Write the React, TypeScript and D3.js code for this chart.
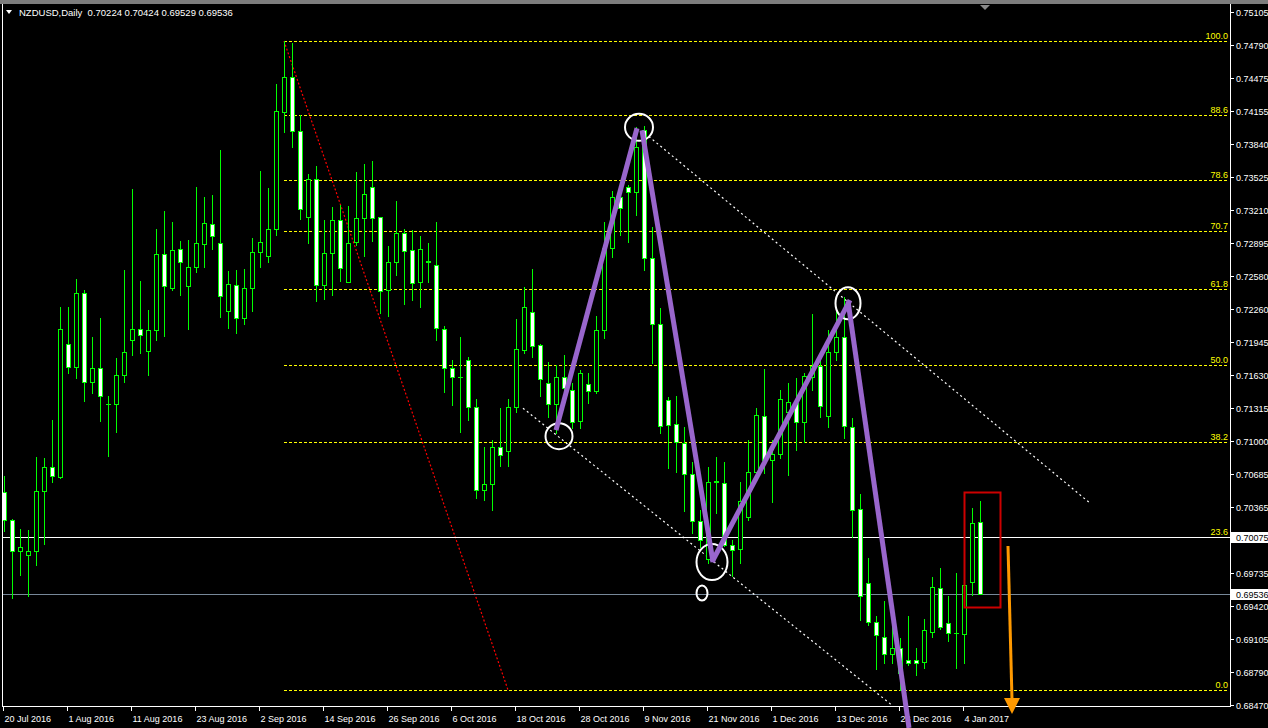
import React from "react";
import * as d3 from "d3";

// NZDUSD daily candles, 20 Jul 2016 .. 6 Jan 2017 (one entry per trading day)
const open = [
  0.70508, 0.7024, 0.69944, 0.69906, 0.69944, 0.70518, 0.70748, 0.70652, 0.71925, 0.71705,
  0.72413, 0.71561, 0.71695, 0.71351, 0.71351, 0.71628, 0.71963, 0.72068, 0.71858, 0.72059,
  0.72786, 0.72461, 0.72834, 0.7248, 0.72662, 0.72882, 0.73073, 0.72891, 0.72241, 0.72489,
  0.72174, 0.72461, 0.72805, 0.72767, 0.73025, 0.74145, 0.7448, 0.73963, 0.7314, 0.73504,
  0.72489, 0.72796, 0.73111, 0.72518, 0.72901, 0.73131, 0.73427, 0.7314, 0.72442, 0.7271,
  0.72987, 0.72824, 0.72518, 0.72719, 0.72681, 0.72068, 0.71695, 0.71609, 0.71772, 0.71322,
  0.70528, 0.70585, 0.70939, 0.70901, 0.71322, 0.71867, 0.72231, 0.71915, 0.71552, 0.71351,
  0.71609, 0.71485, 0.71188, 0.71542, 0.71475, 0.72059, 0.72844, 0.73332, 0.73427, 0.73379,
  0.73973, 0.72748, 0.72116, 0.71389, 0.71159, 0.70977, 0.70681, 0.70231, 0.69867, 0.70604,
  0.70595, 0.70001, 0.69963, 0.70269, 0.707, 0.71236, 0.70815, 0.70872, 0.71274, 0.7136,
  0.71178, 0.71609, 0.71714, 0.71236, 0.71848, 0.71992, 0.71131, 0.70346, 0.69638, 0.69264,
  0.69121, 0.68958, 0.69016, 0.68901, 0.68901, 0.68882, 0.69169, 0.6959, 0.69255, 0.69159,
  0.6915, 0.69647, 0.70224,
];
const high = [
  0.70662, 0.7025, 0.70154, 0.70145, 0.70843, 0.70834, 0.71197, 0.72279, 0.72279, 0.72547,
  0.72442, 0.71992, 0.72174, 0.71427, 0.71791, 0.72633, 0.73408, 0.72528, 0.7225, 0.73025,
  0.73198, 0.73092, 0.7291, 0.7292, 0.73427, 0.73332, 0.73351, 0.73781, 0.72623, 0.72633,
  0.72643, 0.72939, 0.7358, 0.73418, 0.74413, 0.74827, 0.74805, 0.74116, 0.73552, 0.73628,
  0.73111, 0.73236, 0.73255, 0.73246, 0.73571, 0.73647, 0.73676, 0.7314, 0.72863, 0.73293,
  0.73025, 0.73016, 0.72958, 0.72891, 0.73092, 0.72097, 0.71772, 0.71992, 0.718, 0.71398,
  0.70939, 0.71006, 0.71312, 0.71398, 0.72164, 0.7247, 0.72643, 0.71925, 0.71753, 0.71724,
  0.7182, 0.71552, 0.71676, 0.71647, 0.72193, 0.73092, 0.73389, 0.73427, 0.73446, 0.74001,
  0.7401, 0.73045, 0.72269, 0.71418, 0.71427, 0.71131, 0.70796, 0.70336, 0.70748, 0.70843,
  0.70796, 0.70049, 0.70604, 0.71006, 0.71312, 0.71686, 0.71006, 0.71485, 0.71552, 0.71599,
  0.71647, 0.72212, 0.718, 0.72059, 0.7225, 0.72375, 0.71217, 0.70489, 0.69877, 0.69322,
  0.69465, 0.69245, 0.69111, 0.69322, 0.69016, 0.69293, 0.69695, 0.69781, 0.69513, 0.69733,
  0.6963, 0.70355, 0.70424,
];
const low = [
  0.70135, 0.69494, 0.69714, 0.69513, 0.6981, 0.70011, 0.70604, 0.70645, 0.71647, 0.71599,
  0.71379, 0.71456, 0.71188, 0.70853, 0.71083, 0.71561, 0.7182, 0.71839, 0.71628, 0.71963,
  0.72001, 0.72442, 0.72394, 0.72068, 0.72614, 0.72662, 0.72834, 0.72183, 0.72078, 0.7203,
  0.72116, 0.72241, 0.72662, 0.7271, 0.72968, 0.73954, 0.7381, 0.73121, 0.72891, 0.72336,
  0.72355, 0.72394, 0.72528, 0.72518, 0.72872, 0.72767, 0.7291, 0.72221, 0.72193, 0.72585,
  0.72308, 0.72346, 0.72279, 0.72518, 0.71963, 0.71465, 0.71341, 0.71083, 0.71197, 0.70451,
  0.70432, 0.70336, 0.70757, 0.70757, 0.71274, 0.71839, 0.718, 0.71427, 0.71226, 0.71073,
  0.71456, 0.71121, 0.71121, 0.7136, 0.71456, 0.71982, 0.72757, 0.72968, 0.72901, 0.73159,
  0.72633, 0.71743, 0.71073, 0.70738, 0.707, 0.70327, 0.70116, 0.69982, 0.69829, 0.70307,
  0.6999, 0.69705, 0.69829, 0.7024, 0.70652, 0.7069, 0.70413, 0.70834, 0.70671, 0.7091,
  0.70987, 0.71485, 0.71226, 0.71131, 0.71772, 0.71025, 0.70078, 0.69284, 0.69236, 0.68815,
  0.68872, 0.68872, 0.68614, 0.68853, 0.68757, 0.68824, 0.69121, 0.69197, 0.69083, 0.68824,
  0.68872, 0.69523, 0.69529,
];
const close = [
  0.7024, 0.69944, 0.69982, 0.69944, 0.70518, 0.70748, 0.70662, 0.72068, 0.71705, 0.72413,
  0.71561, 0.71695, 0.71427, 0.71353, 0.71628, 0.71848, 0.72068, 0.72011, 0.72059, 0.72786,
  0.7248, 0.72824, 0.7271, 0.72662, 0.72891, 0.73083, 0.72958, 0.72384, 0.72499, 0.72174,
  0.72461, 0.72805, 0.72901, 0.73025, 0.74155, 0.7448, 0.73963, 0.73217, 0.73504, 0.72489,
  0.72796, 0.73111, 0.72652, 0.72891, 0.73131, 0.7336, 0.73131, 0.72432, 0.7271, 0.72987,
  0.72815, 0.72509, 0.72834, 0.7271, 0.72078, 0.71695, 0.71609, 0.71611, 0.71322, 0.70528,
  0.70585, 0.70939, 0.70863, 0.71322, 0.71877, 0.72279, 0.71906, 0.7159, 0.71351, 0.71609,
  0.71504, 0.71178, 0.71647, 0.71475, 0.72059, 0.72844, 0.73332, 0.73226, 0.73379, 0.7381,
  0.72748, 0.72116, 0.7114, 0.7115, 0.70987, 0.70681, 0.70231, 0.70049, 0.70604, 0.70614,
  0.70002, 0.69953, 0.70422, 0.707, 0.71245, 0.70815, 0.70872, 0.71398, 0.7137, 0.71178,
  0.71618, 0.71714, 0.71331, 0.71848, 0.71992, 0.7114, 0.70336, 0.69513, 0.69264, 0.6914,
  0.68958, 0.69016, 0.68776, 0.68872, 0.68872, 0.69188, 0.69599, 0.69217, 0.69159, 0.69161,
  0.69618, 0.70212, 0.69536,
];

// Time axis: a label every 8 bars
const dateLabels = [
  "20 Jul 2016", "1 Aug 2016", "11 Aug 2016", "23 Aug 2016", "2 Sep 2016", "14 Sep 2016",
  "26 Sep 2016", "6 Oct 2016", "18 Oct 2016", "28 Oct 2016", "9 Nov 2016", "21 Nov 2016",
  "1 Dec 2016", "13 Dec 2016", "23 Dec 2016", "4 Jan 2017",
];
const barsPerDateLabel = 8;

// Price axis labels
const priceTicks = [
  0.75105, 0.7479, 0.74475, 0.74155, 0.7384, 0.73525, 0.7321, 0.72895, 0.7258, 0.7226,
  0.71945, 0.7163, 0.71315, 0.71, 0.70685, 0.70365, 0.69735, 0.6942, 0.69105, 0.6879, 0.6847,
];

// Fibonacci retracement from the September high (bar 35) to the December low (bar 112)
const fibLevels = [0, 23.6, 38.2, 50, 61.8, 70.7, 78.6, 88.6, 100];
const fibHighBar = 35;
const fibLowBar = 112;
const fibLineEndBar = 63;

// Horizontal price lines
const levelLine = 0.70075;
const bidPrice = 0.69536;

// Hand-drawn zigzag (four separate trend segments): [bar1, price1, bar2, price2]
const zigzag = [
  [69, 0.71102, 79.125, 0.73992],
  [79.75, 0.73973, 88.625, 0.69839],
  [88.5, 0.69839, 105.75, 0.72346],
  [105.5, 0.72336, 113.125, 0.6825],
];
// Swing-point ellipses: [bar, price]
const swingMarks = [
  [69.375, 0.71044],
  [79.375, 0.74001],
  [88.5, 0.69838],
  [105.5, 0.72317],
  [87.25, 0.69542],
];
// Channel lines: [bar1, price1, bar2, price2]
const channel = [
  [64.875, 0.71312, 111.125, 0.6846],
  [80.125, 0.73944, 135.75, 0.70403],
];
// Box round the last two candles: [barLeft, priceTop, barRight, priceBottom]
const focusBox = [120, 0.70508, 124.5, 0.69408];
// Downward arrow: [barFrom, priceFrom, barTo, priceTo]
const downArrow = [125.5, 0.69992, 126, 0.68384];

const header = "NZDUSD,Daily  0.70224 0.70424 0.69529 0.69536";

const W = 1268;
const H = 728;
const plot = { left: 2, right: 1230, top: 5, bottom: 706 };
const FONT = "'Liberation Sans', Arial, sans-serif";

const x = d3.scaleLinear().domain([0, 1]).range([4, 12]);
const y = d3.scaleLinear().domain([0.6847, 0.75105]).range([705, 12]);
const px = (v: number) => Math.round(v) + 0.5;

function Candles() {
  return (
    <g>
      {open.map((o, i) => {
        const c = close[i];
        const cx = Math.round(x(i));
        const top = Math.round(y(Math.max(o, c)));
        const bot = Math.round(y(Math.min(o, c)));
        const bull = c >= o;
        return (
          <g key={i}>
            <line x1={cx + 0.5} x2={cx + 0.5} y1={Math.round(y(high[i]))} y2={Math.round(y(low[i])) + 1} stroke="#00ff00" strokeWidth={1} />
            {bot - top < 1 ? (
              <line x1={cx - 2} x2={cx + 3} y1={top + 0.5} y2={top + 0.5} stroke="#00ff00" strokeWidth={1} />
            ) : (
              <rect x={cx - 1.5} y={top + 0.5} width={4} height={bot - top} fill={bull ? "#000" : "#fff"} stroke="#00ff00" strokeWidth={1} />
            )}
          </g>
        );
      })}
    </g>
  );
}

export default function App() {
  const fibHigh = high[fibHighBar];
  const fibLow = low[fibLowBar];
  const fibPrice = (lvl: number) => fibLow + ((fibHigh - fibLow) * lvl) / 100;
  const xl = Math.round(x(fibHighBar));

  return (
    <div style={{ position: "absolute", left: 0, top: 0, width: W, height: H }}>
      <svg width={W} height={H} style={{ display: "block", background: "#000" }}>
        <rect x={0} y={0} width={W} height={H} fill="#000" />
        {/* top strip and shift marker */}
        <rect x={0} y={0} width={W} height={4} fill="#7d7d7d" />
        <polygon points="980,5 990,5 985,10" fill="#8a8a8a" />

        <defs>
          <clipPath id="plotClip">
            <rect x={plot.left} y={plot.top} width={plot.right - plot.left} height={plot.bottom - plot.top} />
          </clipPath>
        </defs>

        <g clipPath="url(#plotClip)">
          {/* Fibonacci levels */}
          {fibLevels.map((lvl) => {
            const yy = px(y(fibPrice(lvl)));
            return (
              <g key={lvl}>
                <line x1={xl} x2={plot.right - 1} y1={yy} y2={yy} stroke="#ffff00" strokeWidth={1} strokeDasharray="3 2" />
                <text x={plot.right - 2} y={yy - 3} fill="#ffff00" fontSize={9} fontFamily={FONT} textAnchor="end">
                  {lvl.toFixed(1)}
                </text>
              </g>
            );
          })}
          <line
            x1={x(fibHighBar)} y1={y(fibHigh)} x2={x(fibLineEndBar)} y2={y(fibLow)}
            stroke="#ff0000" strokeWidth={1.2} strokeDasharray="2 2"
          />

          {/* horizontal lines */}
          <line x1={plot.left} x2={plot.right} y1={px(y(levelLine))} y2={px(y(levelLine))} stroke="#ffffff" strokeWidth={1} />
          <line x1={plot.left} x2={plot.right} y1={px(y(bidPrice))} y2={px(y(bidPrice))} stroke="#778899" strokeWidth={1} />

          {/* channel */}
          {channel.map((c, i) => (
            <line key={i} x1={x(c[0])} y1={y(c[1])} x2={x(c[2])} y2={y(c[3])} stroke="#ffffff" strokeWidth={1.2} strokeDasharray="2 3" />
          ))}

          <Candles />

          {/* swing ellipses */}
          {swingMarks.map((m, i) => {
            const r = [[13.5, 13], [14, 13.5], [15.5, 18], [12.5, 16], [5.5, 7.5]][i];
            return <ellipse key={i} cx={x(m[0])} cy={y(m[1])} rx={r[0]} ry={r[1]} fill="none" stroke="#ffffff" strokeWidth={2} />;
          })}

          {/* focus box */}
          <rect
            x={px(x(focusBox[0]))} y={px(y(focusBox[1]))}
            width={Math.round(x(focusBox[2]) - x(focusBox[0]))} height={Math.round(y(focusBox[3]) - y(focusBox[1]))}
            fill="none" stroke="#cc0000" strokeWidth={2}
          />
        </g>

        {/* frame */}
        <line x1={2.5} x2={2.5} y1={4} y2={plot.bottom} stroke="#ffffff" strokeWidth={1} />
        <line x1={plot.right + 0.5} x2={plot.right + 0.5} y1={4} y2={plot.bottom + 1} stroke="#ffffff" strokeWidth={1} />
        <line x1={2} x2={plot.right + 1} y1={plot.bottom + 0.5} y2={plot.bottom + 0.5} stroke="#ffffff" strokeWidth={1} />

        {/* price axis */}
        {priceTicks.map((p) => {
          const yy = px(y(p));
          return (
            <g key={p}>
              <line x1={plot.right + 1} x2={plot.right + 4} y1={yy} y2={yy} stroke="#ffffff" />
              <text x={plot.right + 6} y={yy} dy="0.35em" fill="#ffffff" fontSize={9} fontFamily={FONT}>
                {p.toFixed(5)}
              </text>
            </g>
          );
        })}
        {[levelLine, bidPrice].map((p) => {
          const yy = px(y(p));
          return (
            <g key={p}>
              <rect x={plot.right + 1} y={yy - 5.5} width={W - plot.right - 1} height={11} fill="#ffffff" />
              <text x={plot.right + 6} y={yy} dy="0.35em" fill="#000" fontSize={9} fontFamily={FONT}>
                {p.toFixed(5)}
              </text>
            </g>
          );
        })}

        {/* time axis */}
        {dateLabels.map((d, k) => {
          const xx = px(x(k * barsPerDateLabel)) - 1;
          return (
            <g key={d}>
              <line x1={xx} x2={xx} y1={plot.bottom + 1} y2={plot.bottom + 5} stroke="#ffffff" />
              <text x={xx + 1} y={722} fill="#ffffff" fontSize={9} fontFamily={FONT}>
                {d}
              </text>
            </g>
          );
        })}

        {/* zigzag drawn over everything */}
        {zigzag.map((s, i) => (
          <line key={i} x1={x(s[0])} y1={y(s[1])} x2={x(s[2])} y2={y(s[3])} stroke="#9966cc" strokeWidth={5} />
        ))}

        {/* down arrow */}
        <line x1={x(downArrow[0])} y1={y(downArrow[1])} x2={x(downArrow[2])} y2={y(downArrow[3]) - 14} stroke="#ff9900" strokeWidth={3} />
        <polygon
          points={`${x(downArrow[2]) - 8},${y(downArrow[3]) - 16} ${x(downArrow[2]) + 8},${y(downArrow[3]) - 16} ${x(downArrow[2])},${y(downArrow[3])}`}
          fill="#ff9900"
        />

        {/* header */}
        <polygon points="6,10 12,10 9,14" fill="#ffffff" />
        <text x={19} y={16} fill="#ffffff" fontSize={9.5} fontFamily={FONT} xmlSpace="preserve">
          {header}
        </text>
      </svg>
    </div>
  );
}
